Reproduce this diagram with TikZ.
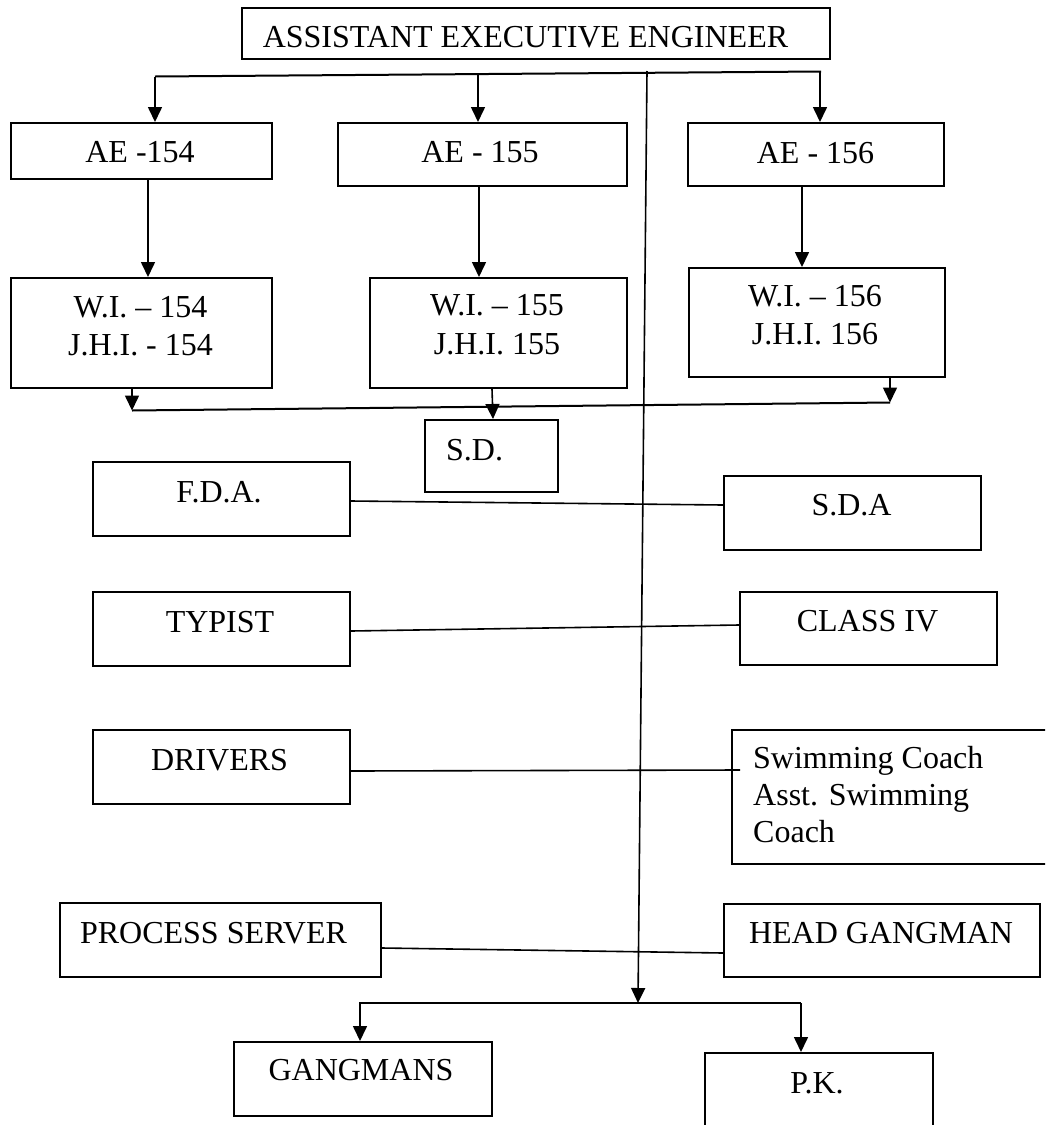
\documentclass[tikz,border=0pt]{standalone}
\usepackage{fontspec}
\setmainfont{Liberation Serif}
\usetikzlibrary{arrows.meta}
\begin{document}
\begin{tikzpicture}[x=1pt,y=-1pt,
  box/.style={draw, line width=2pt, inner sep=0pt, anchor=north west},
  lbl/.style={inner sep=0pt, anchor=base, align=center, font=\fontsize{32}{38.5}\selectfont},
  link/.style={line width=1.6pt},
  arr/.style={line width=1.6pt, -{Triangle[length=15pt,width=14pt]}}]
\useasboundingbox (0,0) rectangle (1045,1125);
\clip (0,0) rectangle (1045,1125);

% boxes
\node[box, minimum width=588pt, minimum height=51pt] (top) at (241,7) {};
\node[box, minimum width=261pt, minimum height=56pt] (ae154) at (10,122) {};
\node[box, minimum width=289pt, minimum height=63pt] (ae155) at (337,122) {};
\node[box, minimum width=256pt, minimum height=63pt] (ae156) at (687,122) {};
\node[box, minimum width=261pt, minimum height=110pt] (wi154) at (10,277) {};
\node[box, minimum width=257pt, minimum height=110pt] (wi155) at (369,277) {};
\node[box, minimum width=256pt, minimum height=109pt] (wi156) at (688,267) {};
\node[box, minimum width=133pt, minimum height=72pt] (sd) at (424,419) {};
\node[box, minimum width=257pt, minimum height=74pt] (fda) at (92,461) {};
\node[box, minimum width=257pt, minimum height=74pt] (sda) at (723,475) {};
\node[box, minimum width=257pt, minimum height=74pt] (typist) at (92,591) {};
\node[box, minimum width=257pt, minimum height=73pt] (class4) at (739,591) {};
\node[box, minimum width=257pt, minimum height=74pt] (drivers) at (92,729) {};
\node[box, minimum width=340pt, minimum height=134pt] (swim) at (731,729) {};
\node[box, minimum width=321pt, minimum height=74pt] (procserv) at (59,902) {};
\node[box, minimum width=316pt, minimum height=73pt] (headg) at (723,903) {};
\node[box, minimum width=258pt, minimum height=74pt] (gangmans) at (233,1041) {};
\node[box, minimum width=228pt, minimum height=100pt] (pk) at (704,1052) {};

% texts
\node[lbl] (topt) at (525.5,47.5) {ASSISTANT EXECUTIVE ENGINEER};
\node[lbl] (ae154t) at (140,162.5) {AE -154};
\node[lbl] (ae155t) at (480,162.5) {AE - 155};
\node[lbl] (ae156t) at (815.5,163) {AE - 156};
\node[lbl] (wi154t) at (140.5,355.5) {W.I. – 154\\J.H.I. - 154};
\node[lbl] (wi155t) at (497,354) {W.I. – 155\\J.H.I. 155};
\node[lbl] (wi156t) at (815,344.5) {W.I. – 156\\J.H.I. 156};
\node[lbl, anchor=base west] (sdt) at (446,460) {S.D.};
\node[lbl] (fdat) at (219,502) {F.D.A.};
\node[lbl] (sdat) at (851.5,515.5) {S.D.A};
\node[lbl] (typistt) at (220,632) {TYPIST};
\node[lbl] (class4t) at (867.5,631) {CLASS IV};
\node[lbl] (driverst) at (219.5,770) {DRIVERS};
\node[lbl, anchor=base west, align=left, font=\fontsize{32}{37}\selectfont] (swimt) at (753,842) {Swimming Coach\\Asst. Swimming\\Coach};
\node[lbl] (procservt) at (213.5,943) {PROCESS SERVER};
\node[lbl] (headgt) at (881,943) {HEAD GANGMAN};
\node[lbl] (gangmanst) at (361,1080) {GANGMANS};
\node[lbl] (pkt) at (817,1093) {P.K.};

% top bus
\coordinate (b1L) at (155,76.5);
\coordinate (b1M) at (478,74.5);
\coordinate (b1R) at (821,71.5);
\coordinate (b1A) at (820,72);
\draw[line width=2pt] (b1L) -- (b1R);
\draw[arr] (b1L) -- (ae154.north -| b1L);
\draw[arr] (b1M) -- (ae155.north -| b1M);
\draw[arr] (b1A) -- (ae156.north -| b1A);

% AE to WI
\draw[arr] ([xshift=6.5pt]ae154.south) -- ([xshift=6.5pt]ae154.south |- wi154.north);
\draw[arr] ([xshift=-3.5pt]ae155.south) -- ([xshift=-3.5pt]ae155.south |- wi155.north);
\draw[arr] ([xshift=-14pt]ae156.south) -- ([xshift=-14pt]ae156.south |- wi156.north);

% WI to lower bus
\coordinate (b2L) at (132,410.5);
\coordinate (b2R) at (890,402.5);
\draw[line width=2pt] (b2L) -- (b2R);
\draw[arr] (wi154.south -| b2L) -- (b2L);
\draw[arr] (wi156.south -| b2R) -- (b2R);
\draw[arr] ([xshift=-6.5pt]wi155.south) -- ([xshift=1.5pt]sd.north);

% long vertical
\coordinate (vtop) at (647,71);
\coordinate (vbot) at (638,1003);
\draw[arr] (vtop) -- (vbot);

% side links
\draw[link] ([yshift=-2pt]fda.east) -- ([yshift=8pt]sda.west);
\draw[link] ([yshift=-2pt]typist.east) -- ([yshift=3.5pt]class4.west);
\draw[link] ([yshift=-4pt]drivers.east) -- ([xshift=9pt,yshift=27pt]swim.west);
\draw[link] ([yshift=-8pt]procserv.east) -- ([yshift=-12.5pt]headg.west);

% bottom bus
\coordinate (b3L) at (360,1003);
\coordinate (b3R) at (801,1003);
\draw[arr] (b3R) -| (gangmans.north -| b3L);
\draw[arr] (b3R) -- (pk.north -| b3R);
\end{tikzpicture}
\end{document}
